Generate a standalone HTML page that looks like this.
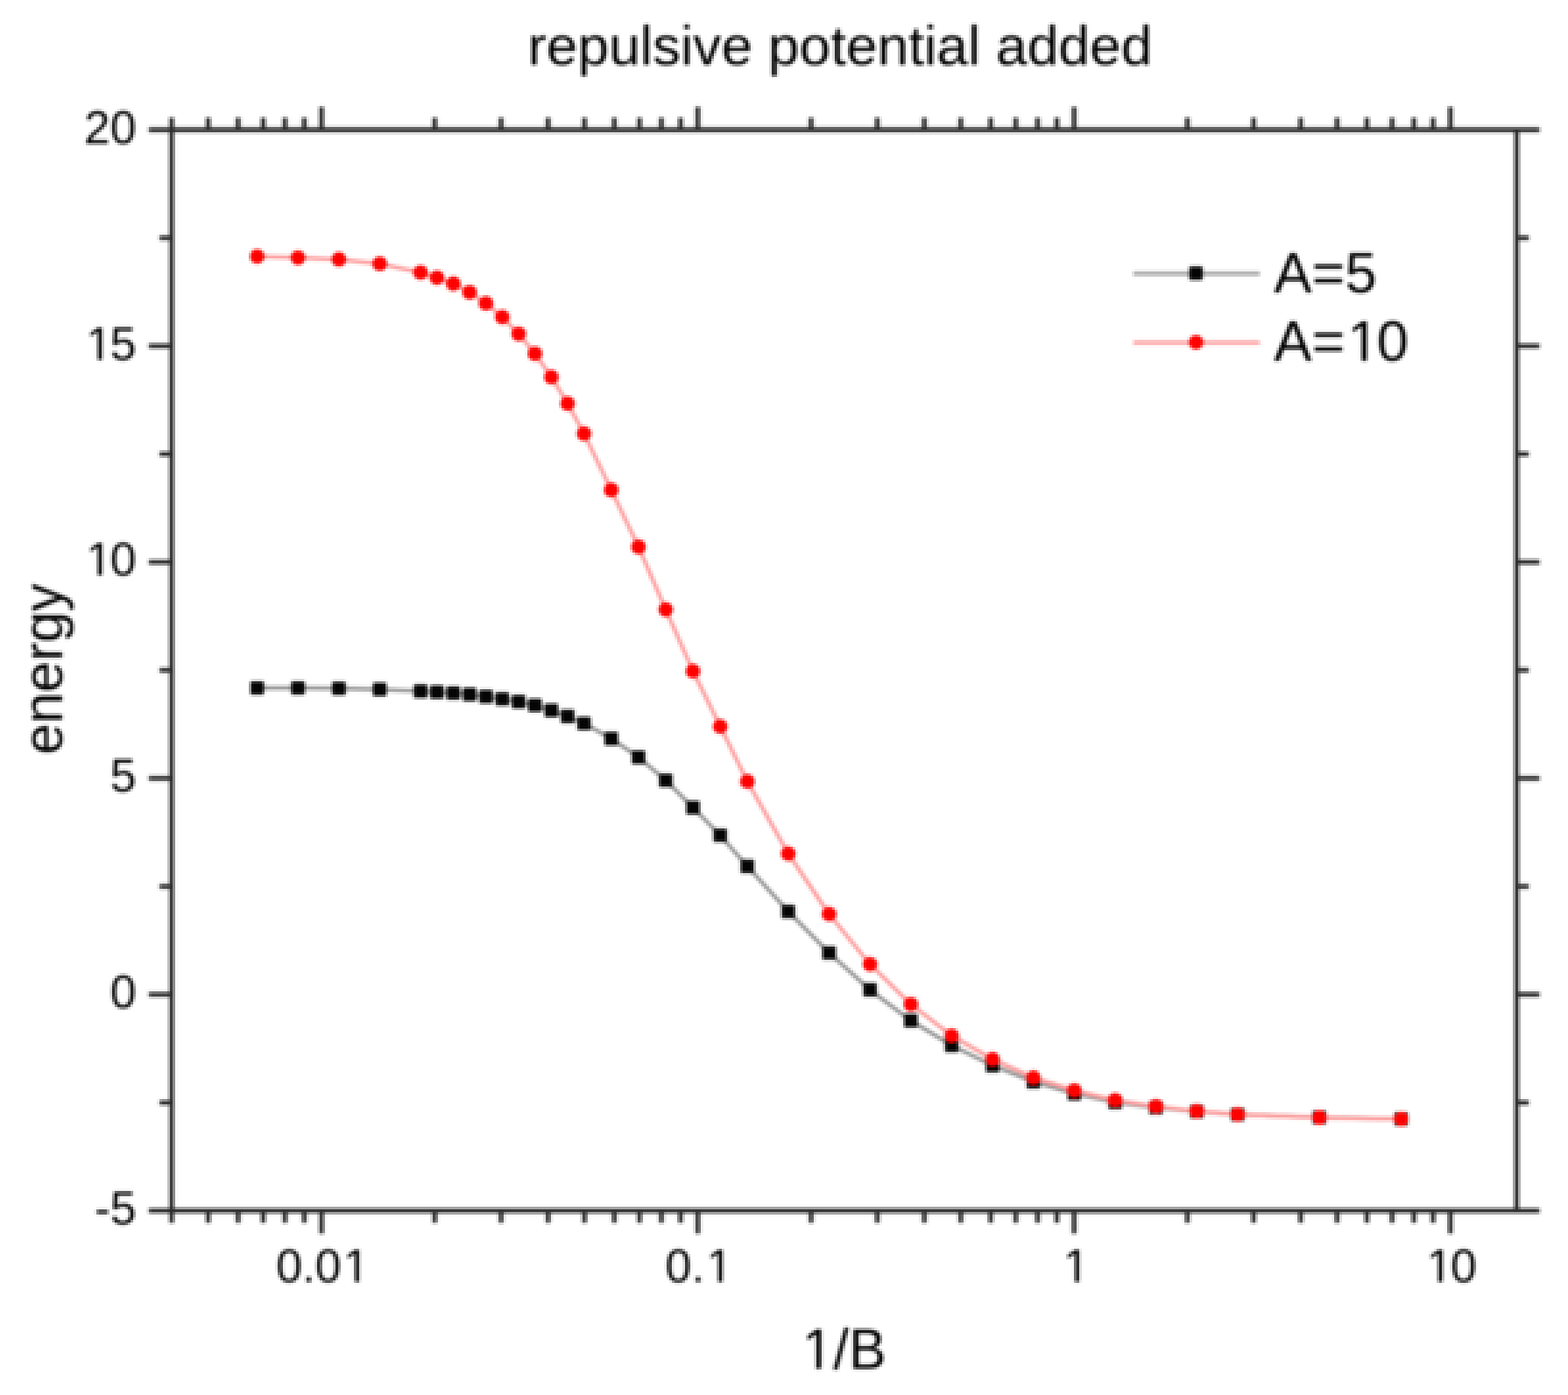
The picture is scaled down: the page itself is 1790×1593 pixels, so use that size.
<!DOCTYPE html>
<html lang="en">
<head>
<meta charset="utf-8">
<title>repulsive potential added</title>
<style>
html, body { margin: 0; padding: 0; background: #ffffff; }
body { width: 1790px; height: 1593px; overflow: hidden; }
svg { display: block; }
text { font-family: "Liberation Sans", Arial, Helvetica, sans-serif; }
</style>
</head>
<body>
<svg width="1790" height="1593" viewBox="0 0 1790 1593">
<defs><filter id="px" x="-15" y="-15" width="1820" height="1623" filterUnits="userSpaceOnUse" primitiveUnits="userSpaceOnUse" color-interpolation-filters="sRGB">
<feGaussianBlur in="SourceGraphic" stdDeviation="1.4" result="b"/>
<feFlood x="3" y="2" width="1" height="1" flood-color="#000000" result="f"/>
<feComposite in="f" in2="f" operator="over" x="2" y="1" width="3" height="3" result="cell"/>
<feTile in="cell" result="tile"/>
<feComposite in="b" in2="tile" operator="in" result="samp"/>
<feMorphology in="samp" operator="dilate" radius="1"/>

</filter></defs>
<g id="plot" filter="url(#px)">
<rect x="-30" y="-30" width="1850" height="1653" fill="#ffffff"/>
<polyline points="293.6,785.6 340.2,785.6 386.9,786.1 433.5,787.2 480.1,789.2 498.8,790.2 517.5,791.4 536.1,793.0 554.8,795.5 573.4,798.1 592.1,801.3 610.7,805.4 629.4,811.3 648.0,818.0 666.7,826.1 697.8,843.5 728.9,864.7 760.0,891.1 791.1,922.2 822.2,953.9 853.2,989.2 899.9,1040.9 946.5,1088.1 993.2,1130.3 1039.8,1165.5 1086.4,1193.8 1133.1,1216.7 1179.7,1235.2 1226.4,1248.7 1273.0,1258.7 1319.6,1264.7 1366.3,1269.2 1412.9,1272.6 1506.2,1276.0 1599.5,1277.7" fill="none" stroke="#989898" stroke-width="4.6" stroke-linejoin="round"/>
<rect x="285.9" y="777.9" width="15.4" height="15.4" rx="1.5" fill="#050505"/>
<rect x="332.5" y="777.9" width="15.4" height="15.4" rx="1.5" fill="#050505"/>
<rect x="379.2" y="778.4" width="15.4" height="15.4" rx="1.5" fill="#050505"/>
<rect x="425.8" y="779.5" width="15.4" height="15.4" rx="1.5" fill="#050505"/>
<rect x="472.4" y="781.5" width="15.4" height="15.4" rx="1.5" fill="#050505"/>
<rect x="491.1" y="782.5" width="15.4" height="15.4" rx="1.5" fill="#050505"/>
<rect x="509.8" y="783.7" width="15.4" height="15.4" rx="1.5" fill="#050505"/>
<rect x="528.4" y="785.3" width="15.4" height="15.4" rx="1.5" fill="#050505"/>
<rect x="547.1" y="787.8" width="15.4" height="15.4" rx="1.5" fill="#050505"/>
<rect x="565.7" y="790.4" width="15.4" height="15.4" rx="1.5" fill="#050505"/>
<rect x="584.4" y="793.6" width="15.4" height="15.4" rx="1.5" fill="#050505"/>
<rect x="603.0" y="797.7" width="15.4" height="15.4" rx="1.5" fill="#050505"/>
<rect x="621.7" y="803.6" width="15.4" height="15.4" rx="1.5" fill="#050505"/>
<rect x="640.3" y="810.3" width="15.4" height="15.4" rx="1.5" fill="#050505"/>
<rect x="659.0" y="818.4" width="15.4" height="15.4" rx="1.5" fill="#050505"/>
<rect x="690.1" y="835.8" width="15.4" height="15.4" rx="1.5" fill="#050505"/>
<rect x="721.2" y="857.0" width="15.4" height="15.4" rx="1.5" fill="#050505"/>
<rect x="752.3" y="883.4" width="15.4" height="15.4" rx="1.5" fill="#050505"/>
<rect x="783.4" y="914.5" width="15.4" height="15.4" rx="1.5" fill="#050505"/>
<rect x="814.5" y="946.2" width="15.4" height="15.4" rx="1.5" fill="#050505"/>
<rect x="845.5" y="981.5" width="15.4" height="15.4" rx="1.5" fill="#050505"/>
<rect x="892.2" y="1033.2" width="15.4" height="15.4" rx="1.5" fill="#050505"/>
<rect x="938.8" y="1080.4" width="15.4" height="15.4" rx="1.5" fill="#050505"/>
<rect x="985.5" y="1122.6" width="15.4" height="15.4" rx="1.5" fill="#050505"/>
<rect x="1032.1" y="1157.8" width="15.4" height="15.4" rx="1.5" fill="#050505"/>
<rect x="1078.7" y="1186.1" width="15.4" height="15.4" rx="1.5" fill="#050505"/>
<rect x="1125.4" y="1209.0" width="15.4" height="15.4" rx="1.5" fill="#050505"/>
<rect x="1172.0" y="1227.5" width="15.4" height="15.4" rx="1.5" fill="#050505"/>
<rect x="1218.7" y="1241.0" width="15.4" height="15.4" rx="1.5" fill="#050505"/>
<rect x="1265.3" y="1251.0" width="15.4" height="15.4" rx="1.5" fill="#050505"/>
<rect x="1311.9" y="1257.0" width="15.4" height="15.4" rx="1.5" fill="#050505"/>
<rect x="1358.6" y="1261.5" width="15.4" height="15.4" rx="1.5" fill="#050505"/>
<rect x="1405.2" y="1264.9" width="15.4" height="15.4" rx="1.5" fill="#050505"/>
<rect x="1498.5" y="1268.3" width="15.4" height="15.4" rx="1.5" fill="#050505"/>
<rect x="1591.8" y="1270.0" width="15.4" height="15.4" rx="1.5" fill="#050505"/>
<polyline points="293.6,292.8 340.2,294.3 386.9,296.2 433.5,301.2 480.1,311.2 498.8,317.1 517.5,324.0 536.1,333.8 554.8,346.4 573.4,362.1 592.1,381.3 610.7,403.8 629.4,430.6 648.0,460.8 666.7,495.2 697.8,559.5 728.9,624.5 760.0,696.1 791.1,766.4 822.2,829.6 853.2,892.4 899.9,974.9 946.5,1043.9 993.2,1101.1 1039.8,1146.8 1086.4,1182.8 1133.1,1209.6 1179.7,1230.7 1226.4,1245.3 1273.0,1256.4 1319.6,1263.5 1366.3,1269.0 1412.9,1272.6 1506.2,1276.2 1599.5,1277.9" fill="none" stroke="#ff9e9e" stroke-width="4.6" stroke-linejoin="round"/>
<circle cx="293.6" cy="292.8" r="8.4" fill="#ff0000"/>
<circle cx="340.2" cy="294.3" r="8.4" fill="#ff0000"/>
<circle cx="386.9" cy="296.2" r="8.4" fill="#ff0000"/>
<circle cx="433.5" cy="301.2" r="8.4" fill="#ff0000"/>
<circle cx="480.1" cy="311.2" r="8.4" fill="#ff0000"/>
<circle cx="498.8" cy="317.1" r="8.4" fill="#ff0000"/>
<circle cx="517.5" cy="324.0" r="8.4" fill="#ff0000"/>
<circle cx="536.1" cy="333.8" r="8.4" fill="#ff0000"/>
<circle cx="554.8" cy="346.4" r="8.4" fill="#ff0000"/>
<circle cx="573.4" cy="362.1" r="8.4" fill="#ff0000"/>
<circle cx="592.1" cy="381.3" r="8.4" fill="#ff0000"/>
<circle cx="610.7" cy="403.8" r="8.4" fill="#ff0000"/>
<circle cx="629.4" cy="430.6" r="8.4" fill="#ff0000"/>
<circle cx="648.0" cy="460.8" r="8.4" fill="#ff0000"/>
<circle cx="666.7" cy="495.2" r="8.4" fill="#ff0000"/>
<circle cx="697.8" cy="559.5" r="8.4" fill="#ff0000"/>
<circle cx="728.9" cy="624.5" r="8.4" fill="#ff0000"/>
<circle cx="760.0" cy="696.1" r="8.4" fill="#ff0000"/>
<circle cx="791.1" cy="766.4" r="8.4" fill="#ff0000"/>
<circle cx="822.2" cy="829.6" r="8.4" fill="#ff0000"/>
<circle cx="853.2" cy="892.4" r="8.4" fill="#ff0000"/>
<circle cx="899.9" cy="974.9" r="8.4" fill="#ff0000"/>
<circle cx="946.5" cy="1043.9" r="8.4" fill="#ff0000"/>
<circle cx="993.2" cy="1101.1" r="8.4" fill="#ff0000"/>
<circle cx="1039.8" cy="1146.8" r="8.4" fill="#ff0000"/>
<circle cx="1086.4" cy="1182.8" r="8.4" fill="#ff0000"/>
<circle cx="1133.1" cy="1209.6" r="8.4" fill="#ff0000"/>
<circle cx="1179.7" cy="1230.7" r="8.4" fill="#ff0000"/>
<circle cx="1226.4" cy="1245.3" r="8.4" fill="#ff0000"/>
<circle cx="1273.0" cy="1256.4" r="8.4" fill="#ff0000"/>
<circle cx="1319.6" cy="1263.5" r="8.4" fill="#ff0000"/>
<circle cx="1366.3" cy="1269.0" r="8.4" fill="#ff0000"/>
<circle cx="1412.9" cy="1272.6" r="8.4" fill="#ff0000"/>
<circle cx="1506.2" cy="1276.2" r="8.4" fill="#ff0000"/>
<circle cx="1599.5" cy="1277.9" r="8.4" fill="#ff0000"/>
<g stroke="#2c2c2c" stroke-width="5.4" fill="none" stroke-linecap="butt">
<line x1="169.8" y1="148.2" x2="1757.6000000000001" y2="148.2"/>
<line x1="169.8" y1="1382.5" x2="1757.6000000000001" y2="1382.5"/>
<line x1="196.0" y1="134.29999999999998" x2="196.0" y2="1396.4"/>
<line x1="1731.4" y1="148.2" x2="1731.4" y2="1382.5"/>
<line x1="182.1" y1="1259.1" x2="196.0" y2="1259.1"/>
<line x1="1731.4" y1="1259.1" x2="1745.3000000000002" y2="1259.1"/>
<line x1="169.8" y1="1135.6" x2="196.0" y2="1135.6"/>
<line x1="1731.4" y1="1135.6" x2="1757.6000000000001" y2="1135.6"/>
<line x1="182.1" y1="1012.2" x2="196.0" y2="1012.2"/>
<line x1="1731.4" y1="1012.2" x2="1745.3000000000002" y2="1012.2"/>
<line x1="169.8" y1="888.8" x2="196.0" y2="888.8"/>
<line x1="1731.4" y1="888.8" x2="1757.6000000000001" y2="888.8"/>
<line x1="182.1" y1="765.3" x2="196.0" y2="765.3"/>
<line x1="1731.4" y1="765.3" x2="1745.3000000000002" y2="765.3"/>
<line x1="169.8" y1="641.9" x2="196.0" y2="641.9"/>
<line x1="1731.4" y1="641.9" x2="1757.6000000000001" y2="641.9"/>
<line x1="182.1" y1="518.5" x2="196.0" y2="518.5"/>
<line x1="1731.4" y1="518.5" x2="1745.3000000000002" y2="518.5"/>
<line x1="169.8" y1="395.1" x2="196.0" y2="395.1"/>
<line x1="1731.4" y1="395.1" x2="1757.6000000000001" y2="395.1"/>
<line x1="182.1" y1="271.6" x2="196.0" y2="271.6"/>
<line x1="1731.4" y1="271.6" x2="1745.3000000000002" y2="271.6"/>
<line x1="237.7" y1="134.29999999999998" x2="237.7" y2="148.2"/>
<line x1="237.7" y1="1382.5" x2="237.7" y2="1396.4"/>
<line x1="271.8" y1="134.29999999999998" x2="271.8" y2="148.2"/>
<line x1="271.8" y1="1382.5" x2="271.8" y2="1396.4"/>
<line x1="300.5" y1="134.29999999999998" x2="300.5" y2="148.2"/>
<line x1="300.5" y1="1382.5" x2="300.5" y2="1396.4"/>
<line x1="325.4" y1="134.29999999999998" x2="325.4" y2="148.2"/>
<line x1="325.4" y1="1382.5" x2="325.4" y2="1396.4"/>
<line x1="347.4" y1="134.29999999999998" x2="347.4" y2="148.2"/>
<line x1="347.4" y1="1382.5" x2="347.4" y2="1396.4"/>
<line x1="367.1" y1="121.99999999999999" x2="367.1" y2="148.2"/>
<line x1="367.1" y1="1382.5" x2="367.1" y2="1408.7"/>
<line x1="496.4" y1="134.29999999999998" x2="496.4" y2="148.2"/>
<line x1="496.4" y1="1382.5" x2="496.4" y2="1396.4"/>
<line x1="572.0" y1="134.29999999999998" x2="572.0" y2="148.2"/>
<line x1="572.0" y1="1382.5" x2="572.0" y2="1396.4"/>
<line x1="625.7" y1="134.29999999999998" x2="625.7" y2="148.2"/>
<line x1="625.7" y1="1382.5" x2="625.7" y2="1396.4"/>
<line x1="667.3" y1="134.29999999999998" x2="667.3" y2="148.2"/>
<line x1="667.3" y1="1382.5" x2="667.3" y2="1396.4"/>
<line x1="701.3" y1="134.29999999999998" x2="701.3" y2="148.2"/>
<line x1="701.3" y1="1382.5" x2="701.3" y2="1396.4"/>
<line x1="730.1" y1="134.29999999999998" x2="730.1" y2="148.2"/>
<line x1="730.1" y1="1382.5" x2="730.1" y2="1396.4"/>
<line x1="755.0" y1="134.29999999999998" x2="755.0" y2="148.2"/>
<line x1="755.0" y1="1382.5" x2="755.0" y2="1396.4"/>
<line x1="776.9" y1="134.29999999999998" x2="776.9" y2="148.2"/>
<line x1="776.9" y1="1382.5" x2="776.9" y2="1396.4"/>
<line x1="796.6" y1="121.99999999999999" x2="796.6" y2="148.2"/>
<line x1="796.6" y1="1382.5" x2="796.6" y2="1408.7"/>
<line x1="925.9" y1="134.29999999999998" x2="925.9" y2="148.2"/>
<line x1="925.9" y1="1382.5" x2="925.9" y2="1396.4"/>
<line x1="1001.5" y1="134.29999999999998" x2="1001.5" y2="148.2"/>
<line x1="1001.5" y1="1382.5" x2="1001.5" y2="1396.4"/>
<line x1="1055.2" y1="134.29999999999998" x2="1055.2" y2="148.2"/>
<line x1="1055.2" y1="1382.5" x2="1055.2" y2="1396.4"/>
<line x1="1096.8" y1="134.29999999999998" x2="1096.8" y2="148.2"/>
<line x1="1096.8" y1="1382.5" x2="1096.8" y2="1396.4"/>
<line x1="1130.9" y1="134.29999999999998" x2="1130.9" y2="148.2"/>
<line x1="1130.9" y1="1382.5" x2="1130.9" y2="1396.4"/>
<line x1="1159.6" y1="134.29999999999998" x2="1159.6" y2="148.2"/>
<line x1="1159.6" y1="1382.5" x2="1159.6" y2="1396.4"/>
<line x1="1184.5" y1="134.29999999999998" x2="1184.5" y2="148.2"/>
<line x1="1184.5" y1="1382.5" x2="1184.5" y2="1396.4"/>
<line x1="1206.5" y1="134.29999999999998" x2="1206.5" y2="148.2"/>
<line x1="1206.5" y1="1382.5" x2="1206.5" y2="1396.4"/>
<line x1="1226.2" y1="121.99999999999999" x2="1226.2" y2="148.2"/>
<line x1="1226.2" y1="1382.5" x2="1226.2" y2="1408.7"/>
<line x1="1355.5" y1="134.29999999999998" x2="1355.5" y2="148.2"/>
<line x1="1355.5" y1="1382.5" x2="1355.5" y2="1396.4"/>
<line x1="1431.1" y1="134.29999999999998" x2="1431.1" y2="148.2"/>
<line x1="1431.1" y1="1382.5" x2="1431.1" y2="1396.4"/>
<line x1="1484.8" y1="134.29999999999998" x2="1484.8" y2="148.2"/>
<line x1="1484.8" y1="1382.5" x2="1484.8" y2="1396.4"/>
<line x1="1526.4" y1="134.29999999999998" x2="1526.4" y2="148.2"/>
<line x1="1526.4" y1="1382.5" x2="1526.4" y2="1396.4"/>
<line x1="1560.4" y1="134.29999999999998" x2="1560.4" y2="148.2"/>
<line x1="1560.4" y1="1382.5" x2="1560.4" y2="1396.4"/>
<line x1="1589.2" y1="134.29999999999998" x2="1589.2" y2="148.2"/>
<line x1="1589.2" y1="1382.5" x2="1589.2" y2="1396.4"/>
<line x1="1614.1" y1="134.29999999999998" x2="1614.1" y2="148.2"/>
<line x1="1614.1" y1="1382.5" x2="1614.1" y2="1396.4"/>
<line x1="1636.0" y1="134.29999999999998" x2="1636.0" y2="148.2"/>
<line x1="1636.0" y1="1382.5" x2="1636.0" y2="1396.4"/>
<line x1="1655.7" y1="121.99999999999999" x2="1655.7" y2="148.2"/>
<line x1="1655.7" y1="1382.5" x2="1655.7" y2="1408.7"/>
</g>
<g font-family="'Liberation Sans', Arial, Helvetica, sans-serif" fill="#000000" style="font-kerning:none">
<text transform="translate(602.48 74.00) scale(1.002 0.975)" font-size="64">repulsive potential added</text>
<text transform="translate(95.99 163.70)" font-size="53.5">20</text>
<text transform="translate(95.99 410.56)" font-size="53.5" dx="2.25 -2.25">15</text>
<text transform="translate(95.99 657.42)" font-size="53.5" dx="2.25 -2.25">10</text>
<text transform="translate(125.75 904.28)" font-size="53.5">5</text>
<text transform="translate(125.75 1151.14)" font-size="53.5">0</text>
<text transform="translate(107.93 1398.00)" font-size="53.5">-5</text>
<text transform="translate(315.19 1463.50)" font-size="53.5" dx="0 0 0 2.25">0.01</text>
<text transform="translate(759.61 1463.50)" font-size="53.5" dx="0 0 2.25">0.1</text>
<text transform="translate(1211.47 1463.50)" font-size="53.5" dx="2.25">1</text>
<text transform="translate(1626.15 1463.50)" font-size="53.5" dx="2.25 -2.25">10</text>
<text transform="translate(915.67 1562.50)" font-size="64" dx="0 0 0">1/B</text>
<text transform="translate(70.50 764.00) rotate(-90) translate(-97.84 0)" font-size="64">energy</text>
<text transform="translate(1454.20 334.00)" font-size="65">A=5</text>
<text transform="translate(1454.20 412.20)" font-size="65" dx="0 0 2.73 -2.73">A=10</text>
</g>
<g fill="#ffffff"><rect x="100.91" y="405.96" width="10.78" height="6.20"/><rect x="116.42" y="405.96" width="11.14" height="6.20"/><rect x="100.91" y="652.82" width="10.78" height="6.20"/><rect x="116.42" y="652.82" width="11.14" height="6.20"/><rect x="394.48" y="1458.90" width="10.78" height="6.20"/><rect x="409.99" y="1458.90" width="12.32" height="6.20"/><rect x="809.15" y="1458.90" width="10.78" height="6.20"/><rect x="824.66" y="1458.90" width="12.32" height="6.20"/><rect x="1216.39" y="1458.90" width="10.78" height="6.20"/><rect x="1231.90" y="1458.90" width="12.32" height="6.20"/><rect x="1631.07" y="1458.90" width="10.78" height="6.20"/><rect x="1646.57" y="1458.90" width="11.14" height="6.20"/><rect x="918.87" y="1557.12" width="12.90" height="6.98"/><rect x="937.42" y="1557.12" width="11.02" height="6.98"/><rect x="1541.49" y="406.74" width="13.10" height="7.06"/><rect x="1560.33" y="406.74" width="13.53" height="7.06"/></g>
<line x1="1293.8" y1="312.4" x2="1438.2" y2="312.4" stroke="#aaaaaa" stroke-width="5.0"/>
<rect x="1357.6" y="304.3" width="15.4" height="15.4" rx="1.5" fill="#050505"/>
<line x1="1293.8" y1="391.2" x2="1438.2" y2="391.2" stroke="#ff9e9e" stroke-width="4.6"/>
<circle cx="1365.4" cy="390.9" r="8.4" fill="#ff0000"/>
</g>
</svg>
</body>
</html>
